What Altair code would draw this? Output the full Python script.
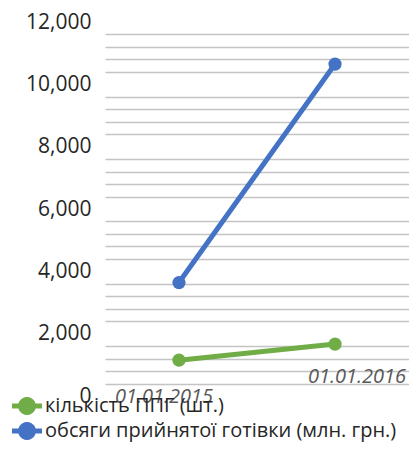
import math
import altair as alt
import pandas as pd

# ---- data ----
DATES = ["01.01.2015", "01.01.2016"]
SERIES = ["кількість ППГ (шт.)", "обсяги прийнятої готівки (млн. грн.)"]
COUNT = [1150, 1665]     # кількість ППГ (шт.)
CASH = [3640, 10650]     # обсяги прийнятої готівки (млн. грн.)
COLORS = ["#70AD47", "#4472C4"]
Y_MAX = 12000
Y_MAJOR = 2000
Y_MINOR = 400

rows = []
for d, v in zip(DATES, COUNT):
    rows.append({"date": d, "series": SERIES[0], "value": v})
for d, v in zip(DATES, CASH):
    rows.append({"date": d, "series": SERIES[1], "value": v})
df = pd.DataFrame(rows)
df["line_series"] = df["series"]
labels_df = pd.DataFrame({"date": DATES})

FONT = "Open Sans"

y_axis = alt.Axis(
    values=list(range(0, Y_MAX + 1, Y_MINOR)),
    labelExpr=f"datum.value % {Y_MAJOR} === 0 ? format(datum.value, ',') : ''",
    labelOverlap=False,
    labelFont=FONT,
    labelFontSize=21,
    labelColor="#262626",
    labelPadding=14,
    ticks=False,
    domain=False,
    grid=True,
    gridColor="#c4c4c4",
    gridWidth=1.6,
    gridOpacity={"condition": {"test": f"datum.value % {Y_MAJOR} === 0", "value": 0}, "value": 1},
    title=None,
)
y_scale = alt.Scale(domain=[0, Y_MAX], nice=False, zero=True)
x_enc = alt.X("date:N", scale=alt.Scale(type="point", padding=0.474), axis=None, sort=DATES)

base = alt.Chart(df)

# line colours: same mapping, domain listed in reverse order so that this
# (legend-less) scale is not merged with the legend of the point layer
lines = base.mark_line(strokeWidth=5).encode(
    x=x_enc,
    y=alt.Y("value:Q", scale=y_scale, axis=y_axis),
    stroke=alt.Stroke("line_series:N",
                      scale=alt.Scale(domain=SERIES[::-1], range=COLORS[::-1]),
                      legend=None),
    detail="series:N",
)

# legend symbol: thick line segment with a filled circle in the middle
_r = 0.6
_circle = " ".join(
    ("M" if i == 0 else "L") + f"{_r * math.cos(2 * math.pi * i / 24):.3f},{_r * math.sin(2 * math.pi * i / 24):.3f}"
    for i in range(24)
) + " Z"
LEGEND_PATH = "M-1,-0.17 L1,-0.17 L1,0.17 L-1,0.17 Z " + _circle

points = base.mark_point(filled=True, size=175, opacity=1).encode(
    x=x_enc,
    y=alt.Y("value:Q", scale=y_scale, axis=y_axis),
    color=alt.Color(
        "series:N",
        scale=alt.Scale(domain=SERIES, range=COLORS),
        legend=alt.Legend(
            title=None,
            orient="none",
            legendX=-93,
            legendY=369,
            padding=0,
            symbolType=LEGEND_PATH,
            symbolSize=900,
            symbolStrokeWidth=0,
            labelFont=FONT,
            labelFontSize=20,
            labelColor="#262626",
            labelLimit=420,
            labelOffset=3,
            rowPadding=0,
        ),
    ),
)

lbl_common = dict(font=FONT, fontSize=20, fontStyle="italic", color="#595959",
                  align="center", baseline="alphabetic")

lbl_2015 = alt.Chart(labels_df).transform_filter(
    alt.datum.date == DATES[0]
).mark_text(dx=-15, dy=7, **lbl_common).encode(
    x=x_enc, y=alt.Y(datum=0, scale=y_scale, axis=y_axis), text="date:N"
)
lbl_2016 = alt.Chart(labels_df).transform_filter(
    alt.datum.date == DATES[1]
).mark_text(dx=22, dy=-13, **lbl_common).encode(
    x=x_enc, y=alt.Y(datum=0, scale=y_scale, axis=y_axis), text="date:N"
)

chart = alt.layer(lines, points, lbl_2015, lbl_2016).properties(
    width=304,
    height=374,
    background="white",
    autosize=alt.AutoSizeParams(type="none"),
    padding={"left": 97, "top": 14, "right": 0, "bottom": 47},
).configure_view(stroke=None)

chart.save("out.html", embed_options={"renderer": "svg", "actions": False})
